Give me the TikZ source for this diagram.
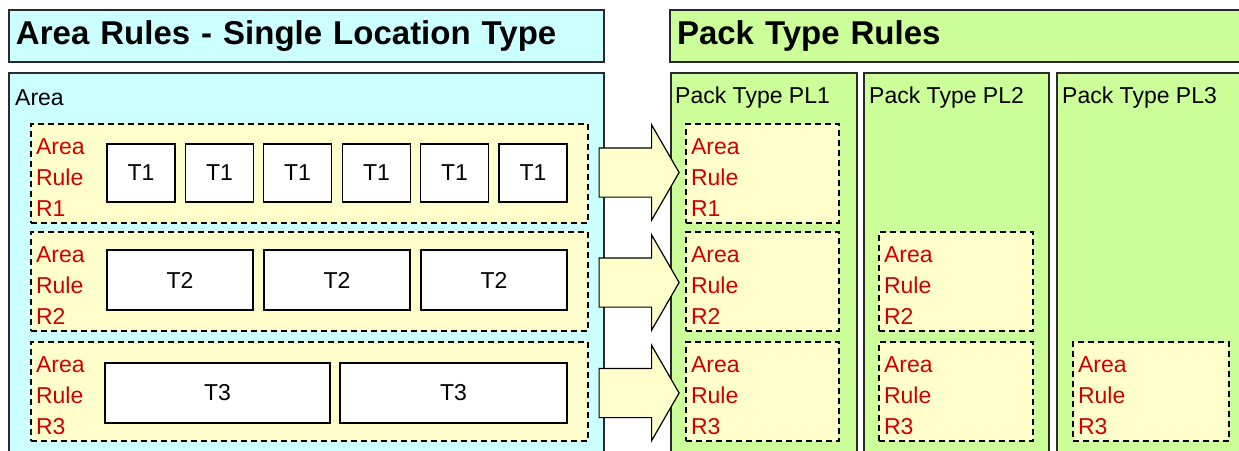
\documentclass[tikz,border=0pt]{standalone}
\usepackage{fontspec}
\setmainfont{Liberation Sans}
\usepackage{tikz}
\usetikzlibrary{shapes.arrows}
\definecolor{AreaCyan}{HTML}{CCFFFF}
\definecolor{PackGreen}{HTML}{CCFF99}
\definecolor{RuleYellow}{HTML}{FFFFCC}
\definecolor{RuleRed}{HTML}{D00000}
\definecolor{Frame}{HTML}{2A2A2A}

\begin{document}
\begin{tikzpicture}[
        x=1pt,
        y=-1pt,
        font=\fontsize{23}{31}\selectfont,
        headbox/.style={draw=Frame, line width=1.6pt, align=left, inner xsep=7pt, inner ysep=0pt, minimum height=52pt, font=\bfseries\fontsize{33}{38}\selectfont},
        panel/.style={draw=Frame, line width=1.6pt, inner sep=0pt, minimum height=400pt},
        panellabel/.style={anchor=west, inner sep=0pt},
        rulebox/.style={draw=black, dashed, dash pattern=on 6pt off 4pt, line width=2pt, fill=RuleYellow, text=RuleRed, align=left, inner xsep=5pt, inner ysep=0pt, minimum height=99pt},
        tbox/.style={draw=black, fill=white, line width=1.6pt, inner sep=0pt},
        blockarrow/.style={single arrow, draw=black, line width=1.2pt, fill=RuleYellow, inner xsep=0pt, inner ysep=24pt, minimum height=80pt, minimum width=94pt, single arrow head extend=23pt, single arrow tip angle=120}
      ]
        \path[fill=white, use as bounding box] (0,0) rectangle (1239,450);

        \node[headbox, fill=AreaCyan, text width=581pt] (areatitle) at (306.5,36) {Area Rules - Single Location Type};
        \node[headbox, fill=PackGreen, text width=566pt] (packtitle) at (960,36) {Pack Type Rules};

        \node[panel, fill=AreaCyan, minimum width=595pt] (area) at (306.5,273) {};
        \node[panel, fill=PackGreen, minimum width=186pt] (pl1) at (764,273) {};
        \node[panel, fill=PackGreen, minimum width=185pt] (pl2) at (956.5,273) {};
        \node[panel, fill=PackGreen, minimum width=193pt] (pl3) at (1153.5,273) {};

        \node[panellabel] (arealabel) at (15,98) {Area};
        \node[panellabel] (pl1label) at (675,98) {Pack Type PL1};
        \node[panellabel] (pl2label) at (869,98) {Pack Type PL2};
        \node[panellabel] (pl3label) at (1062,98) {Pack Type PL3};

        \node[rulebox, text width=547pt] (ar1) at (309.5,173) {\rule{0pt}{24pt}Area\\Rule\\R1};
        \node[rulebox, text width=547pt] (ar2) at (309.5,281.5) {\rule{0pt}{24pt}Area\\Rule\\R2};
        \node[rulebox, text width=547pt] (ar3) at (309.5,391.5) {\rule{0pt}{24pt}Area\\Rule\\R3};

        \node[tbox, minimum width=68pt, minimum height=58pt] (t1a) at (141,173) {T1};
        \node[tbox, minimum width=68pt, minimum height=58pt] (t1b) at (219.5,173) {T1};
        \node[tbox, minimum width=68pt, minimum height=58pt] (t1c) at (297.5,173) {T1};
        \node[tbox, minimum width=68pt, minimum height=58pt] (t1d) at (376.5,173) {T1};
        \node[tbox, minimum width=68pt, minimum height=58pt] (t1e) at (454.5,173) {T1};
        \node[tbox, minimum width=68pt, minimum height=58pt] (t1f) at (533,173) {T1};

        \node[tbox, minimum width=146pt, minimum height=60pt] (t2a) at (180,280) {T2};
        \node[tbox, minimum width=146pt, minimum height=60pt] (t2b) at (337,280) {T2};
        \node[tbox, minimum width=146pt, minimum height=60pt] (t2c) at (494,280) {T2};

        \node[tbox, minimum width=225pt, minimum height=60pt] (t3a) at (217.5,393) {T3};
        \node[tbox, minimum width=227pt, minimum height=60pt] (t3b) at (453.5,393) {T3};

        \node[rulebox, text width=143pt] (pl1r1) at (762.5,173) {\rule{0pt}{24pt}Area\\Rule\\R1};
        \node[rulebox, text width=143pt] (pl1r2) at (762.5,281.5) {\rule{0pt}{24pt}Area\\Rule\\R2};
        \node[rulebox, text width=143pt] (pl1r3) at (762.5,391.5) {\rule{0pt}{24pt}Area\\Rule\\R3};
        \node[rulebox, text width=144pt] (pl2r2) at (956,281.5) {\rule{0pt}{24pt}Area\\Rule\\R2};
        \node[rulebox, text width=144pt] (pl2r3) at (956,391.5) {\rule{0pt}{24pt}Area\\Rule\\R3};
        \node[rulebox, text width=146pt] (pl3r3) at (1151,391.5) {\rule{0pt}{24pt}Area\\Rule\\R3};

        \node[blockarrow] (arrow1) at (632,172.5) {};
        \node[blockarrow] (arrow2) at (632,282.5) {};
        \node[blockarrow] (arrow3) at (632,393) {};
      \end{tikzpicture}
\end{document}
